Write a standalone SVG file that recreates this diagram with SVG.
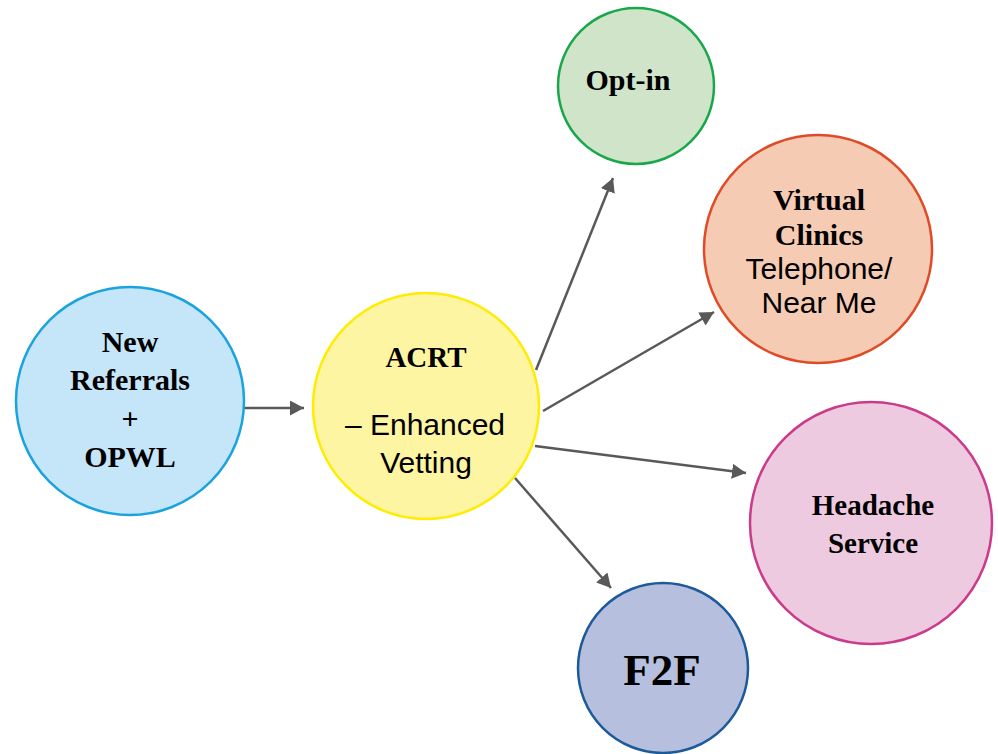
<svg xmlns="http://www.w3.org/2000/svg" width="998" height="754" viewBox="0 0 998 754">
<style>
.b{font-family:"Liberation Serif","Times New Roman",serif;font-weight:bold;font-size:30px;fill:#000;text-anchor:middle}
.s{font-family:"Liberation Sans",Arial,sans-serif;font-size:30px;fill:#000;text-anchor:middle}
.c{stroke-width:2.5}
.conn line{stroke:#595959;stroke-width:2.5;fill:none;marker-end:url(#ah)}
</style>
<defs>
<marker id="ah" markerUnits="userSpaceOnUse" markerWidth="16" markerHeight="16" refX="14" refY="7.5" orient="auto">
<path d="M0,0 L14,7.5 L0,15 z" fill="#595959"/>
</marker>
</defs>
<rect width="998" height="754" fill="#fff"/>
<g class="conn" id="connectors">
<line x1="244" y1="408" x2="304" y2="408"/>
<line x1="536" y1="370" x2="613" y2="178"/>
<line x1="543" y1="411" x2="714" y2="312"/>
<line x1="535" y1="446" x2="746" y2="473"/>
<line x1="515" y1="478" x2="611" y2="588"/>
</g>
<g id="new-referrals">
<circle class="c" cx="130" cy="401" r="114" fill="#c5e5f8" stroke="#1ba3df"/>
<text class="b" x="130" y="352">New</text>
<text class="b" x="130" y="390">Referrals</text>
<text class="b" x="130" y="429">+</text>
<text class="b" x="130" y="467">OPWL</text>
</g>
<g id="acrt">
<circle class="c" cx="426" cy="406" r="113" fill="#fdf5a1" stroke="#ffec00"/>
<text class="b" x="426" y="367" style="font-size:29px">ACRT</text>
<text class="s" x="425" y="435">– Enhanced</text>
<text class="s" x="426" y="473">Vetting</text>
</g>
<g id="opt-in">
<circle class="c" cx="636" cy="86" r="78" fill="#cfe4c9" stroke="#18a84b"/>
<text class="b" x="628" y="90">Opt-in</text>
</g>
<g id="virtual-clinics">
<circle class="c" cx="818" cy="249" r="114" fill="#f6cbb3" stroke="#e04b27"/>
<text class="b" x="819" y="210">Virtual</text>
<text class="b" x="819" y="245">Clinics</text>
<text class="s" x="819" y="279">Telephone/</text>
<text class="s" x="819" y="313">Near Me</text>
</g>
<g id="headache-service">
<circle class="c" cx="871" cy="523" r="121" fill="#eecae0" stroke="#cb3b8b"/>
<text class="b" x="873" y="515" style="font-size:29px">Headache</text>
<text class="b" x="873" y="553" style="font-size:29px">Service</text>
</g>
<g id="f2f">
<circle class="c" cx="663" cy="668" r="85" fill="#b6c0de" stroke="#1c5a9a"/>
<text class="b" x="662" y="685" style="font-size:45px">F2F</text>
</g>
</svg>
